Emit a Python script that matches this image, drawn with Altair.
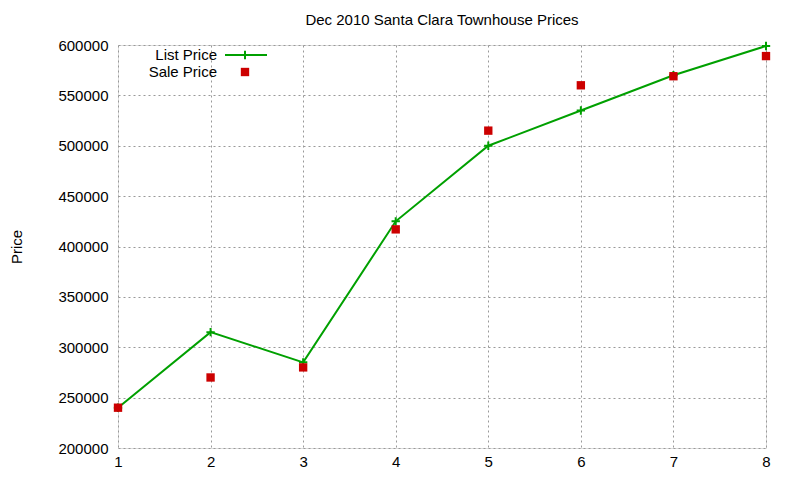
import altair as alt
import pandas as pd

months = [1, 2, 3, 4, 5, 6, 7, 8]
list_price = [240000, 315000, 285000, 425000, 500000, 535000, 570000, 599000]
sale_price = [240000, 270000, 280000, 417000, 515000, 560000, 569000, 589000]

df = pd.DataFrame({"x": months, "list": list_price, "sale": sale_price})

GREEN = "#00a000"
RED = "#cc0000"
FONT = "Liberation Sans"
FS = 15

xs = alt.Scale(domain=[1, 8], nice=False)
ys = alt.Scale(domain=[200000, 600000], nice=False, zero=False)

xaxis = alt.Axis(values=months, format="d", grid=True, gridDash=[2, 3], gridColor="#999999",
                 ticks=False, labelPadding=6, labelFontSize=FS, labelFont=FONT, labelColor="black",
                 labelFlush=False, domain=False, title=None)
yaxis = alt.Axis(values=list(range(200000, 600001, 50000)), format="d", grid=True, gridDash=[2, 3],
                 gridColor="#999999", ticks=False, labelPadding=10, labelFontSize=FS, labelFont=FONT,
                 labelColor="black", labelFlush=False, domain=False, title="Price", titleFont=FONT,
                 titleFontSize=FS, titleFontWeight="normal", titlePadding=33, titleColor="black")

base = alt.Chart(df)

line = base.mark_line(color=GREEN, strokeWidth=2).encode(
    x=alt.X("x:Q", scale=xs, axis=xaxis),
    y=alt.Y("list:Q", scale=ys, axis=yaxis),
)
plus = base.mark_point(shape="M-1,0L1,0M0,-1L0,1", color=GREEN, strokeWidth=2, size=70, opacity=1).encode(
    x=alt.X("x:Q", scale=xs), y=alt.Y("list:Q", scale=ys)
)
sale = base.mark_square(color=RED, size=70, opacity=1).encode(
    x=alt.X("x:Q", scale=xs), y=alt.Y("sale:Q", scale=ys)
)

leg_labels = ["List Price", "Sale Price"]
leg1 = pd.DataFrame({"label": [leg_labels[0]]})
leg2 = pd.DataFrame({"label": [leg_labels[1]]})

txt_kw = dict(align="right", baseline="middle", font=FONT, fontSize=FS, color="black")
leg_text1 = alt.Chart(leg1).mark_text(**txt_kw).encode(text="label:N", x=alt.value(99), y=alt.value(10))
leg_text2 = alt.Chart(leg2).mark_text(**txt_kw).encode(text="label:N", x=alt.value(99), y=alt.value(27))
leg_line = alt.Chart(leg1).mark_rule(color=GREEN, strokeWidth=2).encode(
    x=alt.value(107), x2=alt.value(149), y=alt.value(10)
)
leg_plus = alt.Chart(leg1).mark_point(shape="M-1,0L1,0M0,-1L0,1", color=GREEN,
                                      strokeWidth=2, size=70, opacity=1).encode(
    x=alt.value(127), y=alt.value(10)
)
leg_sq = alt.Chart(leg2).mark_square(color=RED, size=70, opacity=1).encode(
    x=alt.value(127), y=alt.value(27)
)

chart = alt.layer(line, plus, sale, leg_text1, leg_text2, leg_line, leg_plus, leg_sq).properties(
    width=648,
    height=403,
    title=alt.TitleParams("Dec 2010 Santa Clara Townhouse Prices", font=FONT, fontSize=FS,
                          fontWeight="normal", color="black", offset=10, anchor="middle"),
    autosize=alt.AutoSizeParams(type="none"),
    padding={"left": 110, "top": 37, "right": 26, "bottom": 24},
).configure_view(stroke="black", strokeWidth=1.5).configure(background="white")

chart.save("out.html", embed_options={"renderer": "svg", "actions": False})
